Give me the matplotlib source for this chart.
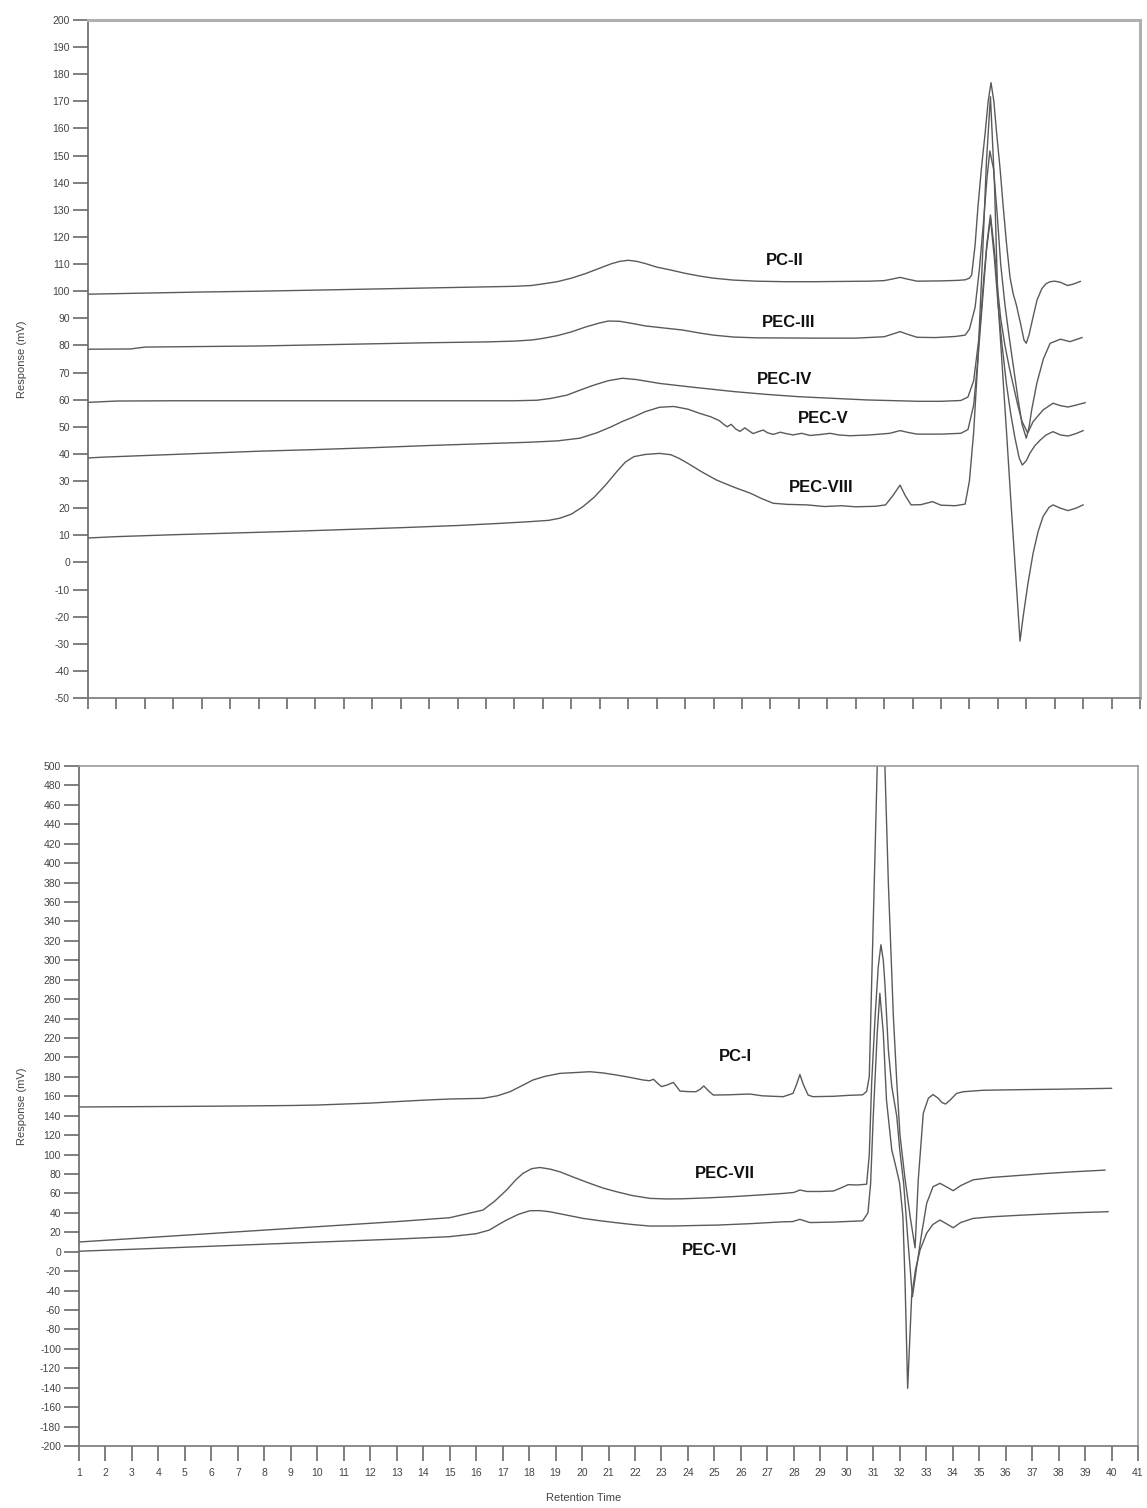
import matplotlib
matplotlib.use("Agg")
import matplotlib.pyplot as plt

plt.rcParams['font.family'] = ['Liberation Sans', 'DejaVu Sans']
plt.rcParams['axes.unicode_minus'] = False

# ---------------- Top panel data (retention time, response mV) ----------------
pc2_x = [1.0, 3, 5, 7, 9, 11, 13, 15, 16.0, 16.6, 17.0, 17.5, 18.0, 18.5, 19.0, 19.4, 19.7, 20.0, 20.3, 20.6,
         21.0, 21.5, 22.0, 22.5, 23.0, 23.7, 24.5, 25.5, 26.5, 27.5, 28.5, 29.0, 29.3, 29.56, 29.8, 30.16, 31.0,
         31.6, 31.85, 32.0, 32.08, 32.2, 32.3, 32.42, 32.55, 32.66, 32.76, 32.86, 32.96, 33.08, 33.19, 33.31,
         33.43, 33.54, 33.65, 33.8, 33.92, 34.0, 34.1, 34.25, 34.38, 34.55, 34.7, 34.84, 35.0, 35.2, 35.45,
         35.65, 35.9]
pc2_y = [98.9, 99.3, 99.7, 100.0, 100.4, 100.8, 101.2, 101.6, 101.8, 102.1, 102.7, 103.5, 104.8, 106.5, 108.5,
         110.1, 111.0, 111.4, 111.0, 110.2, 108.9, 107.8, 106.6, 105.6, 104.8, 104.1, 103.7, 103.5, 103.5, 103.6,
         103.7, 103.9, 104.5, 105.1, 104.5, 103.7, 103.8, 104.0, 104.2, 104.8, 106, 117, 131, 145, 158, 170,
         176.9, 170, 158, 145, 131, 117, 105, 99, 95, 88, 82, 80.8, 84, 91, 96.8, 101, 102.8, 103.5, 103.7,
         103.3, 102.1, 102.6, 103.6]

pec3_x = [1.0, 2.5, 3.0, 5, 7, 9, 11, 13, 15, 16.0, 16.6, 17.0, 17.5, 18.0, 18.5, 19.0, 19.3, 19.7, 20.2, 20.6,
          21.2, 21.9, 22.5, 23.0, 23.7, 24.5, 26.5, 28.0, 29.0, 29.3, 29.56, 29.8, 30.16, 30.8, 31.5, 31.85, 32.0,
          32.2, 32.35, 32.5, 32.62, 32.72, 32.85, 32.98, 33.1, 33.25, 33.4, 33.55, 33.7, 33.85, 34.0, 34.1, 34.19,
          34.37, 34.6, 34.84, 35.2, 35.54, 35.96]
pec3_y = [78.6, 78.7, 79.4, 79.6, 79.8, 80.2, 80.6, 81.0, 81.3, 81.6, 82.0, 82.6, 83.6, 85.0, 86.8, 88.3, 89.0,
          88.9, 88.0, 87.2, 86.5, 85.7, 84.6, 83.8, 83.1, 82.8, 82.7, 82.7, 83.2, 84.2, 85.1, 84.2, 83.0, 82.9, 83.3,
          83.8, 86, 94, 108, 126, 142, 151.7, 145, 128, 110, 95, 83, 72, 61, 51, 45.8, 50, 56.2, 66, 75, 80.8,
          82.3, 81.4, 82.9]

pec4_x = [1.0, 2.0, 4, 8, 12, 16, 16.8, 17.3, 17.85, 18.3, 18.8, 19.3, 19.8, 20.3, 21.1, 22.1, 22.9, 23.7, 24.8,
          26.0, 27.2, 28.4, 30.2, 31.0, 31.7, 31.95, 32.15, 32.35, 32.5, 32.62, 32.74, 32.88, 33.0, 33.1, 33.25,
          33.4, 33.55, 33.7, 33.85, 34.05, 34.24, 34.59, 34.94, 35.2, 35.47, 35.75, 36.07]
pec4_y = [59.0, 59.5, 59.6, 59.6, 59.6, 59.6, 59.8, 60.5, 61.7, 63.5, 65.4, 67.0, 67.9, 67.4, 66.0, 64.8, 63.9,
          63.0, 62.0, 61.1, 60.5, 59.9, 59.4, 59.4, 59.7, 61, 67, 84, 104, 118, 128.1, 115, 100, 90, 80, 72, 65,
          58, 52, 47.7, 51.9, 56.2, 58.7, 57.8, 57.3, 58.0, 58.9]

pec5_x = [1.0, 1.5, 3, 5, 7, 9, 11, 13, 15, 16.5, 17.5, 18.3, 18.9, 19.4, 19.8, 20.2, 20.6, 21.1, 21.6, 22.1,
          22.5, 22.9, 23.2, 23.35, 23.48, 23.62, 23.78, 23.93, 24.1, 24.25, 24.39, 24.6, 24.75, 24.9, 25.1, 25.35,
          25.55, 25.8, 26.1, 26.4, 26.8, 27.1, 27.4, 27.8, 28.5, 29.2, 29.56, 29.85, 30.16, 31.0, 31.7, 31.95,
          32.15, 32.3, 32.45, 32.6, 32.74, 32.88, 33.0, 33.15, 33.3, 33.45, 33.6, 33.75, 33.86, 34.0, 34.13,
          34.3, 34.49, 34.7, 34.94, 35.2, 35.47, 35.75, 36.0]
pec5_y = [38.5, 38.8, 39.4, 40.2, 41.0, 41.6, 42.3, 43.1, 43.8, 44.3, 44.8, 45.8, 47.8, 50.0, 52.0, 53.7, 55.6,
          57.2, 57.5, 56.5, 55.0, 53.7, 52.3, 51.0, 50.0, 50.9, 49.2, 48.3, 49.6, 48.5, 47.5, 48.3, 48.8, 47.8,
          47.2, 48.0, 47.5, 47.0, 47.6, 46.8, 47.2, 47.6, 47.0, 46.7, 47.0, 47.6, 48.6, 47.9, 47.3, 47.3, 47.6,
          49, 58, 75, 95, 115, 127, 112, 96, 80, 66, 55, 46, 38.5, 35.9, 37.5, 40.3, 43, 45.1, 47.0, 48.2, 47.0,
          46.6, 47.5, 48.6]

pec8_x = [1.0, 2, 4, 6, 8, 10, 12, 14, 15.5, 16.5, 17.2, 17.6, 18.0, 18.4, 18.8, 19.2, 19.6, 19.9, 20.2, 20.6,
          21.1, 21.5, 21.8, 22.1, 22.6, 23.1, 23.7, 24.3, 24.7, 25.1, 25.6, 26.3, 26.9, 27.5, 28.0, 28.7, 29.05,
          29.3, 29.56, 29.75, 29.95, 30.3, 30.7, 31.0, 31.5, 31.85, 32.0, 32.15, 32.3, 32.45, 32.6, 32.74, 32.88,
          33.0, 33.15, 33.3, 33.45, 33.6, 33.7, 33.78, 33.89, 34.06, 34.24, 34.42, 34.59, 34.8, 34.94, 35.2,
          35.47, 35.75, 36.0]
pec8_y = [9.0, 9.5, 10.2, 10.8, 11.4, 12.1, 12.8, 13.6, 14.4, 15.0, 15.5, 16.3, 17.8, 20.5, 24.0, 28.5, 33.5,
          37.0, 39.0, 39.8, 40.2, 39.7, 38.3, 36.5, 33.3, 30.4, 27.8, 25.5, 23.5, 21.8, 21.4, 21.2, 20.6, 20.9,
          20.5, 20.7, 21.2, 24.5, 28.5, 24.5, 21.2, 21.3, 22.4, 21.1, 20.9, 21.5, 30, 48, 75, 110, 148, 171.7, 140,
          97, 73, 49, 24, 0, -16, -29.0, -20, -7.7, 3.4, 11.5, 16.9, 20.3, 21.2, 20.0, 19.1, 20.0, 21.2]

top_series = [(pc2_x, pc2_y), (pec3_x, pec3_y), (pec4_x, pec4_y), (pec5_x, pec5_y), (pec8_x, pec8_y)]
top_labels = ["PC-II", "PEC-III", "PEC-IV", "PEC-V", "PEC-VIII"]
top_label_x = [25.5, 25.65, 25.5, 26.85, 26.8]
top_label_y = [111.3, 88.5, 67.6, 52.9, 27.8]

# ---------------- Bottom panel data ----------------
pc1_x = [1.0, 3, 5, 7, 9, 10, 11, 12, 13, 14, 15, 16.26, 16.8, 17.28, 17.7, 18.15, 18.6, 19.17, 19.8, 20.3, 20.8,
         21.3, 21.8, 22.3, 22.55, 22.7, 22.85, 23.0, 23.2, 23.45, 23.7, 24.0, 24.3, 24.45, 24.6, 24.8, 24.96,
         25.5, 26.0, 26.35, 26.8, 27.2, 27.6, 27.97, 28.1, 28.23, 28.36, 28.54, 28.72, 29.5, 30.1, 30.6, 30.75,
         30.85, 30.94, 31.07, 31.15, 31.29, 31.44, 31.57, 31.76, 31.89, 32.01, 32.2, 32.4, 32.58, 32.7, 32.89,
         33.08, 33.26, 33.45, 33.6, 33.73, 33.9, 34.15, 34.4, 35.15, 36.5, 38, 40.0]
pc1_y = [149.0, 149.3, 149.6, 150.0, 150.5, 151.0, 152.0, 153.0, 154.5, 156.0, 157.2, 157.9, 160.5, 164.7, 170.5,
         176.8, 180.5, 183.6, 184.5, 185.3, 184.0, 181.9, 179.5, 176.8, 176.0, 177.5, 173.5, 170.0, 171.5, 174.3,
         165.4, 164.8, 164.7, 167, 170.6, 165, 161.3, 161.5, 162.0, 162.3, 160.5, 160.0, 159.6, 163.0, 172, 182.4,
         172, 161.3, 159.6, 160.0, 161.0, 161.5, 165, 180, 277, 413, 500, 640, 500, 380, 242, 174, 120, 75, 35,
         4, 74, 142.6, 157.9, 161.8, 158, 153.5, 152.0, 156, 163.0, 164.7, 166.2, 166.8, 167.3, 168.2]

pec7_x = [1.0, 3, 5, 7, 9, 11, 13, 15, 16.26, 16.7, 17.15, 17.5, 17.77, 18.1, 18.41, 18.8, 19.17, 19.7, 20.3,
          20.8, 21.31, 21.9, 22.57, 23.2, 23.82, 24.8, 25.7, 26.6, 27.6, 28.0, 28.23, 28.5, 29.0, 29.5, 29.86,
          30.05, 30.4, 30.75, 30.85, 30.94, 31.07, 31.19, 31.29, 31.38, 31.44, 31.57, 31.7, 31.89, 32.0, 32.15,
          32.3, 32.48, 32.64, 32.83, 33.02, 33.26, 33.52, 33.75, 34.02, 34.3, 34.77, 35.5, 36.5, 37.5, 38.5, 39.75]
pec7_y = [10.0, 13.5, 17.0, 20.5, 24.0, 27.5, 31.0, 35.0, 42.9, 52, 63.5, 74, 80.7, 85.5, 86.7, 85.0, 82.2, 76.5,
          70.3, 65.5, 61.7, 57.8, 54.9, 54.3, 54.5, 55.5, 56.7, 58.2, 60.0, 61.0, 63.5, 62.0, 62.0, 62.5, 66.6,
          69.0, 68.7, 69.5, 100, 174, 242, 293.5, 316, 300, 276, 208, 170, 139, 105, 70, 15, -46.3, -15.5, 19, 50,
          67, 70.4, 67, 62.8, 68, 74.0, 76.5, 78.5, 80.5, 82.2, 84.0]

pec6_x = [1.0, 3, 5, 7, 9, 11, 13, 15, 16.0, 16.5, 16.85, 17.15, 17.6, 18.03, 18.4, 18.79, 19.4, 20.04, 20.7,
          21.31, 21.9, 22.57, 23.5, 24.3, 25.09, 26.3, 27.6, 27.95, 28.23, 28.61, 29.5, 30.6, 30.8, 30.9, 31.0,
          31.15, 31.25, 31.38, 31.5, 31.7, 31.85, 32.0, 32.12, 32.2, 32.3, 32.45, 32.6, 32.77, 33.02, 33.25,
          33.52, 33.75, 34.02, 34.3, 34.77, 35.5, 36.5, 37.5, 38.5, 39.87]
pec6_y = [0.5, 2.5, 4.6, 6.7, 8.8, 10.9, 13.0, 15.5, 18.5, 22.3, 28, 32.6, 38.5, 42.2, 42.3, 41.1, 37.8, 34.3,
          31.8, 29.8, 28.0, 26.4, 26.5, 27.0, 27.4, 28.8, 30.8, 31.0, 33.3, 30.0, 30.5, 31.8, 40, 70, 139, 225,
          266, 225, 156, 104.7, 88, 70, 36, -30, -140.6, -46, -18, 2, 19.2, 28, 32.6, 29, 24.7, 30, 34.3, 36.0,
          37.5, 38.8, 40.0, 41.2]

bottom_series = [(pc1_x, pc1_y), (pec7_x, pec7_y), (pec6_x, pec6_y)]
bottom_labels = ["PC-I", "PEC-VII", "PEC-VI"]
bottom_label_x = [25.8, 25.4, 24.8]
bottom_label_y = [200.5, 80.0, 1.7]

top_yticks = list(range(-50, 201, 10))
bottom_yticks = list(range(-200, 501, 20))
top_xticks = list(range(1, 39))
bottom_xticks = list(range(1, 42))

# ---------------- Drawing ----------------
W, H = 1147, 1508
fig = plt.figure(figsize=(W / 100, H / 100), dpi=100)
fig.patch.set_facecolor("white")

ax1 = fig.add_axes([88 / W, 1 - 698 / H, (1140 - 88) / W, (698 - 20) / H])
ax2 = fig.add_axes([79 / W, 1 - 1446 / H, (1138 - 79) / W, (1446 - 766) / H])

line_color = "#5a5a5a"
tick_color = "#6a6a6a"
lab_color = "#444444"

for x, y in top_series:
    ax1.plot(x, y, color=line_color, lw=1.0, solid_joinstyle="round")
for x, y in bottom_series:
    ax2.plot(x, y, color=line_color, lw=1.0, solid_joinstyle="round")

for lab, lx, ly in zip(top_labels, top_label_x, top_label_y):
    ax1.text(lx, ly, lab, fontsize=12, fontweight="bold", ha="center", va="center", color="#111111")
for lab, lx, ly in zip(bottom_labels, bottom_label_x, bottom_label_y):
    ax2.text(lx, ly, lab, fontsize=12, fontweight="bold", ha="center", va="center", color="#111111")

ax1.set_xlim(1, 38)
ax1.set_ylim(-50, 200)
ax1.set_yticks(top_yticks)
ax1.set_xticks(top_xticks)
ax1.set_xticklabels([])

ax2.set_xlim(1, 41)
ax2.set_ylim(-200, 500)
ax2.set_yticks(bottom_yticks)
ax2.set_xticks(bottom_xticks)

for ax in (ax1, ax2):
    ax.tick_params(axis="y", direction="out", length=10.5, width=1.2, color=tick_color,
                   labelsize=7.5, labelcolor=lab_color, pad=2.5)
    ax.tick_params(axis="x", direction="out", width=1.2, color=tick_color,
                   labelsize=7.5, labelcolor=lab_color, pad=5)
    ax.spines["left"].set_color("#666666")
    ax.spines["bottom"].set_color("#777777")
    ax.spines["left"].set_linewidth(1.2)
    ax.spines["bottom"].set_linewidth(1.2)

ax1.tick_params(axis="x", length=7.7)
ax2.tick_params(axis="x", length=10.5)

for s in ("top", "right"):
    ax1.spines[s].set_color("#b0b0b0")
    ax1.spines[s].set_linewidth(2.2)
    ax2.spines[s].set_color("#999999")
    ax2.spines[s].set_linewidth(1.2)

fig.text(22 / W, 1 - 359 / H, "Response (mV)", rotation=90, ha="center", va="center",
         fontsize=8, color=lab_color)
fig.text(22 / W, 1 - 1106 / H, "Response (mV)", rotation=90, ha="center", va="center",
         fontsize=8, color=lab_color)
fig.text(584 / W, 1 - 1498 / H, "Retention Time", ha="center", va="center", fontsize=8, color=lab_color)

fig.savefig("out.png", dpi=100, facecolor="white")
